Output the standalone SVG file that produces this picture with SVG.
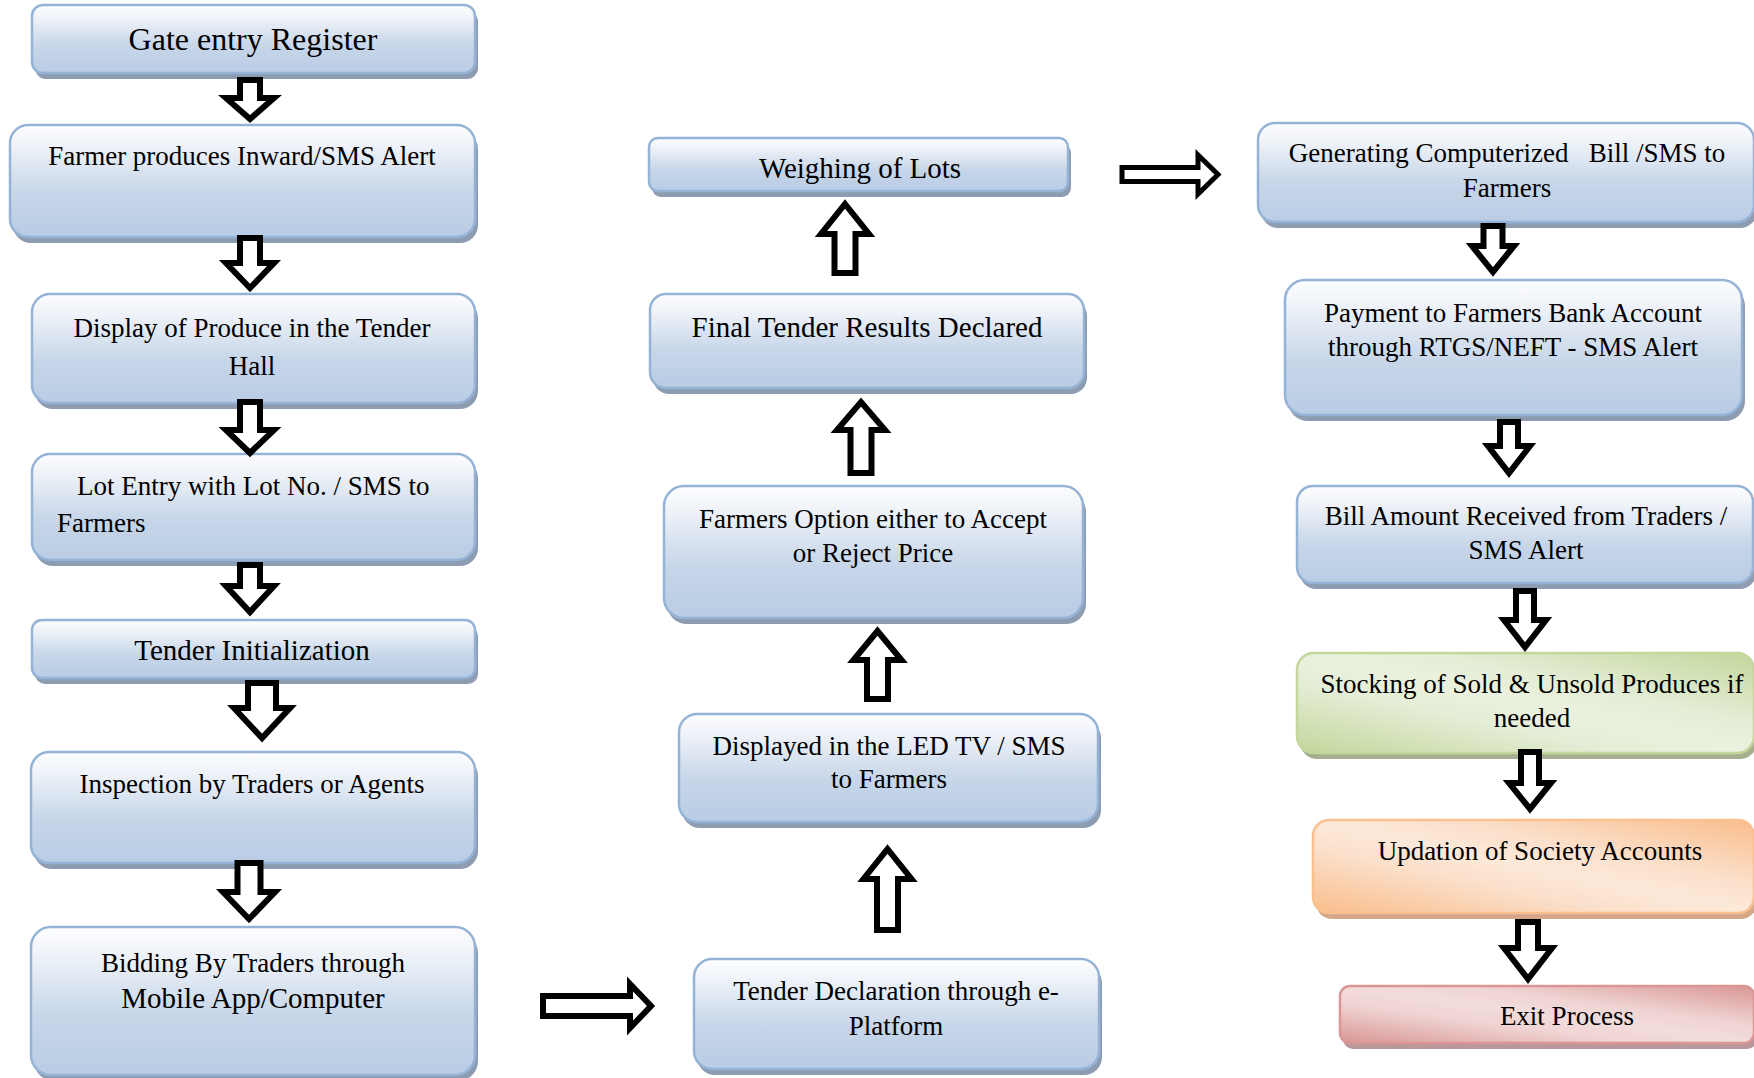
<svg xmlns="http://www.w3.org/2000/svg" width="1754" height="1078" viewBox="0 0 1754 1078">
  <defs>
    <linearGradient id="gBlue" x1="0" y1="0" x2="0" y2="1">
      <stop offset="0" stop-color="#fdfdfe"/>
      <stop offset="0.2" stop-color="#eef2f8"/>
      <stop offset="0.6" stop-color="#c7d6e9"/>
      <stop offset="1" stop-color="#b9cce4"/>
    </linearGradient>
    <linearGradient id="gGreen" x1="0" y1="1" x2="1" y2="0">
      <stop offset="0" stop-color="#c3d69b"/>
      <stop offset="0.35" stop-color="#e4edd5"/>
      <stop offset="0.5" stop-color="#ebf1de"/>
      <stop offset="0.65" stop-color="#e4edd5"/>
      <stop offset="1" stop-color="#c3d69b"/>
    </linearGradient>
    <linearGradient id="gOrange" x1="0" y1="1" x2="1" y2="0">
      <stop offset="0" stop-color="#f9bd8b"/>
      <stop offset="0.35" stop-color="#fbe0cb"/>
      <stop offset="0.5" stop-color="#fde9d9"/>
      <stop offset="0.65" stop-color="#fbe0cb"/>
      <stop offset="1" stop-color="#f9bd8b"/>
    </linearGradient>
    <linearGradient id="gRed" x1="0" y1="1" x2="1" y2="0">
      <stop offset="0" stop-color="#d99694"/>
      <stop offset="0.35" stop-color="#efd4d3"/>
      <stop offset="0.5" stop-color="#f2dcdb"/>
      <stop offset="0.65" stop-color="#efd4d3"/>
      <stop offset="1" stop-color="#d99694"/>
    </linearGradient>
  </defs>
  <style>
    .sh-b { fill: #8e9cb1; }
    .sh-g { fill: #a4b08e; }
    .sh-o { fill: #d4a98a; }
    .sh-r { fill: #b9979a; }
    .bx-b { fill: url(#gBlue); stroke: #95b3d7; stroke-width: 2.5; }
    .bx-g { fill: url(#gGreen); stroke: #c3d69b; stroke-width: 2.5; }
    .bx-o { fill: url(#gOrange); stroke: #fac090; stroke-width: 2.5; }
    .bx-r { fill: url(#gRed); stroke: #d99694; stroke-width: 2.5; }
    text { font-family: "Liberation Serif", "Times New Roman", serif; font-size: 27px; fill: #000; }
    .c { text-anchor: middle; }
    .big { font-size: 32px; }
    .mid { font-size: 29px; }
    .arrow { fill: #fff; stroke: #000; stroke-width: 6; stroke-linejoin: miter; stroke-miterlimit: 10; }
    .arrow-thin { stroke-width: 5; }
  </style>

  <rect width="1754" height="1078" fill="#fff"/>

  <!-- left column -->
  <g id="gate-entry">
    <rect class="sh-b" x="35" y="11" width="443" height="68" rx="11"/>
    <rect class="bx-b" x="32" y="5" width="443" height="68" rx="11"/>
    <text class="c big" x="253" y="50">Gate entry Register</text>
  </g>
  <g id="farmer-inward">
    <rect class="sh-b" x="13" y="131" width="465" height="112" rx="18"/>
    <rect class="bx-b" x="10" y="125" width="465" height="112" rx="18"/>
    <text class="c" x="242" y="165">Farmer produces Inward/SMS Alert</text>
  </g>
  <g id="display-produce">
    <rect class="sh-b" x="35" y="300" width="443" height="109" rx="18"/>
    <rect class="bx-b" x="32" y="294" width="443" height="109" rx="18"/>
    <text class="c" x="252" y="337">Display of Produce in the Tender</text>
    <text class="c" x="252" y="375">Hall</text>
  </g>
  <g id="lot-entry">
    <rect class="sh-b" x="35" y="460" width="443" height="106" rx="18"/>
    <rect class="bx-b" x="32" y="454" width="443" height="106" rx="18"/>
    <text x="77" y="495">Lot Entry with Lot No. / SMS to</text>
    <text x="57" y="532">Farmers</text>
  </g>
  <g id="tender-init">
    <rect class="sh-b" x="35" y="626" width="443" height="58" rx="10"/>
    <rect class="bx-b" x="32" y="620" width="443" height="58" rx="10"/>
    <text class="c mid" x="252" y="660">Tender Initialization</text>
  </g>
  <g id="inspection">
    <rect class="sh-b" x="34" y="758" width="444" height="111" rx="18"/>
    <rect class="bx-b" x="31" y="752" width="444" height="111" rx="18"/>
    <text class="c" x="252" y="793">Inspection by Traders or Agents</text>
  </g>
  <g id="bidding">
    <rect class="sh-b" x="34" y="933" width="444" height="148" rx="20"/>
    <rect class="bx-b" x="31" y="927" width="444" height="148" rx="20"/>
    <text class="c" x="253" y="972">Bidding By Traders through</text>
    <text class="c mid" x="253" y="1008">Mobile App/Computer</text>
  </g>

  <!-- middle column -->
  <g id="weighing">
    <rect class="sh-b" x="652" y="144" width="419" height="53" rx="9"/>
    <rect class="bx-b" x="649" y="138" width="419" height="53" rx="9"/>
    <text class="c mid" x="860" y="178">Weighing of Lots</text>
  </g>
  <g id="final-results">
    <rect class="sh-b" x="653" y="300" width="434" height="94" rx="16"/>
    <rect class="bx-b" x="650" y="294" width="434" height="94" rx="16"/>
    <text class="c mid" x="867" y="337">Final Tender Results Declared</text>
  </g>
  <g id="farmer-option">
    <rect class="sh-b" x="667" y="492" width="419" height="132" rx="20"/>
    <rect class="bx-b" x="664" y="486" width="419" height="132" rx="20"/>
    <text class="c" x="873" y="528">Farmers Option either to Accept</text>
    <text class="c" x="873" y="562">or Reject Price</text>
  </g>
  <g id="led-display">
    <rect class="sh-b" x="682" y="720" width="419" height="108" rx="18"/>
    <rect class="bx-b" x="679" y="714" width="419" height="108" rx="18"/>
    <text class="c" x="889" y="755">Displayed in the LED TV / SMS</text>
    <text class="c" x="889" y="788">to Farmers</text>
  </g>
  <g id="tender-declaration">
    <rect class="sh-b" x="697" y="965" width="405" height="110" rx="18"/>
    <rect class="bx-b" x="694" y="959" width="405" height="110" rx="18"/>
    <text class="c" x="896" y="1000">Tender Declaration through e-</text>
    <text class="c" x="896" y="1035">Platform</text>
  </g>

  <!-- right column -->
  <g id="bill-generation">
    <rect class="sh-b" x="1261" y="129" width="496" height="99" rx="17"/>
    <rect class="bx-b" x="1258" y="123" width="496" height="99" rx="17"/>
    <text class="c" x="1507" y="162" xml:space="preserve">Generating Computerized   Bill /SMS to</text>
    <text class="c" x="1507" y="197">Farmers</text>
  </g>
  <g id="payment">
    <rect class="sh-b" x="1288" y="286" width="457" height="135" rx="20"/>
    <rect class="bx-b" x="1285" y="280" width="457" height="135" rx="20"/>
    <text class="c" x="1513" y="322">Payment to Farmers Bank Account</text>
    <text class="c" x="1513" y="356">through RTGS/NEFT - SMS Alert</text>
  </g>
  <g id="bill-received">
    <rect class="sh-b" x="1300" y="492" width="456" height="97" rx="16"/>
    <rect class="bx-b" x="1297" y="486" width="456" height="97" rx="16"/>
    <text class="c" x="1526" y="525">Bill Amount Received from Traders /</text>
    <text class="c" x="1526" y="559">SMS Alert</text>
  </g>
  <g id="stocking">
    <rect class="sh-g" x="1300" y="659" width="457" height="100" rx="17"/>
    <rect class="bx-g" x="1297" y="653" width="457" height="100" rx="17"/>
    <text class="c" x="1532" y="693">Stocking of Sold &amp; Unsold Produces if</text>
    <text class="c" x="1532" y="727">needed</text>
  </g>
  <g id="society-accounts">
    <rect class="sh-o" x="1316" y="826" width="441" height="93" rx="16"/>
    <rect class="bx-o" x="1313" y="820" width="441" height="93" rx="16"/>
    <text class="c" x="1540" y="860">Updation of Society Accounts</text>
  </g>
  <g id="exit">
    <rect class="sh-r" x="1343" y="992" width="414" height="57" rx="10"/>
    <rect class="bx-r" x="1340" y="986" width="414" height="57" rx="10"/>
    <text class="c" x="1567" y="1025">Exit Process</text>
  </g>

  <!-- block arrows -->
  <g id="connectors">
    <path class="arrow" d="M240,80 H260 V98 H274 L250,119 L226,98 H240 Z"/>
    <path class="arrow" d="M240,238 H260 V263 H274 L250,288 L226,263 H240 Z"/>
    <path class="arrow" d="M240,402 H260 V430 H274 L250,453 L226,430 H240 Z"/>
    <path class="arrow" d="M240,565 H260 V586 H274 L250,612 L226,586 H240 Z"/>
    <path class="arrow" d="M248,683 H276 V708 H290 L262,738 L234,708 H248 Z"/>
    <path class="arrow" d="M237.5,863 H260.5 V892 H275 L249,919 L223,892 H237.5 Z"/>
    <path class="arrow" d="M543,996 H630 V984 L651,1006 L630,1028 V1016 H543 Z"/>

    <path class="arrow" d="M877,930 V879 H863.5 L887.5,849 L911.5,879 H898 V930 Z"/>
    <path class="arrow" d="M867,699 V660 H853.5 L877.5,631 L901.5,660 H888 V699 Z"/>
    <path class="arrow" d="M850.5,473 V430 H837 L861,402 L885,430 H871.5 V473 Z"/>
    <path class="arrow" d="M834.5,273 V234 H821 L845,204 L869,234 H855.5 V273 Z"/>
    <path class="arrow arrow-thin" d="M1122,167.5 H1198 V155 L1218,174.5 L1198,194 V181.5 H1122 Z"/>

    <path class="arrow" d="M1483.5,226 H1502.5 V246 H1514 L1493,272 L1472,246 H1483.5 Z"/>
    <path class="arrow" d="M1500,422 H1518 V446 H1530 L1509,473 L1488,446 H1500 Z"/>
    <path class="arrow" d="M1516,591 H1534 V620 H1546 L1525,647 L1504,620 H1516 Z"/>
    <path class="arrow" d="M1521,752 H1539 V783 H1551 L1530,809 L1509,783 H1521 Z"/>
    <path class="arrow" d="M1518,922 H1538 V948 H1552 L1528,979 L1504,948 H1518 Z"/>
  </g>
</svg>
